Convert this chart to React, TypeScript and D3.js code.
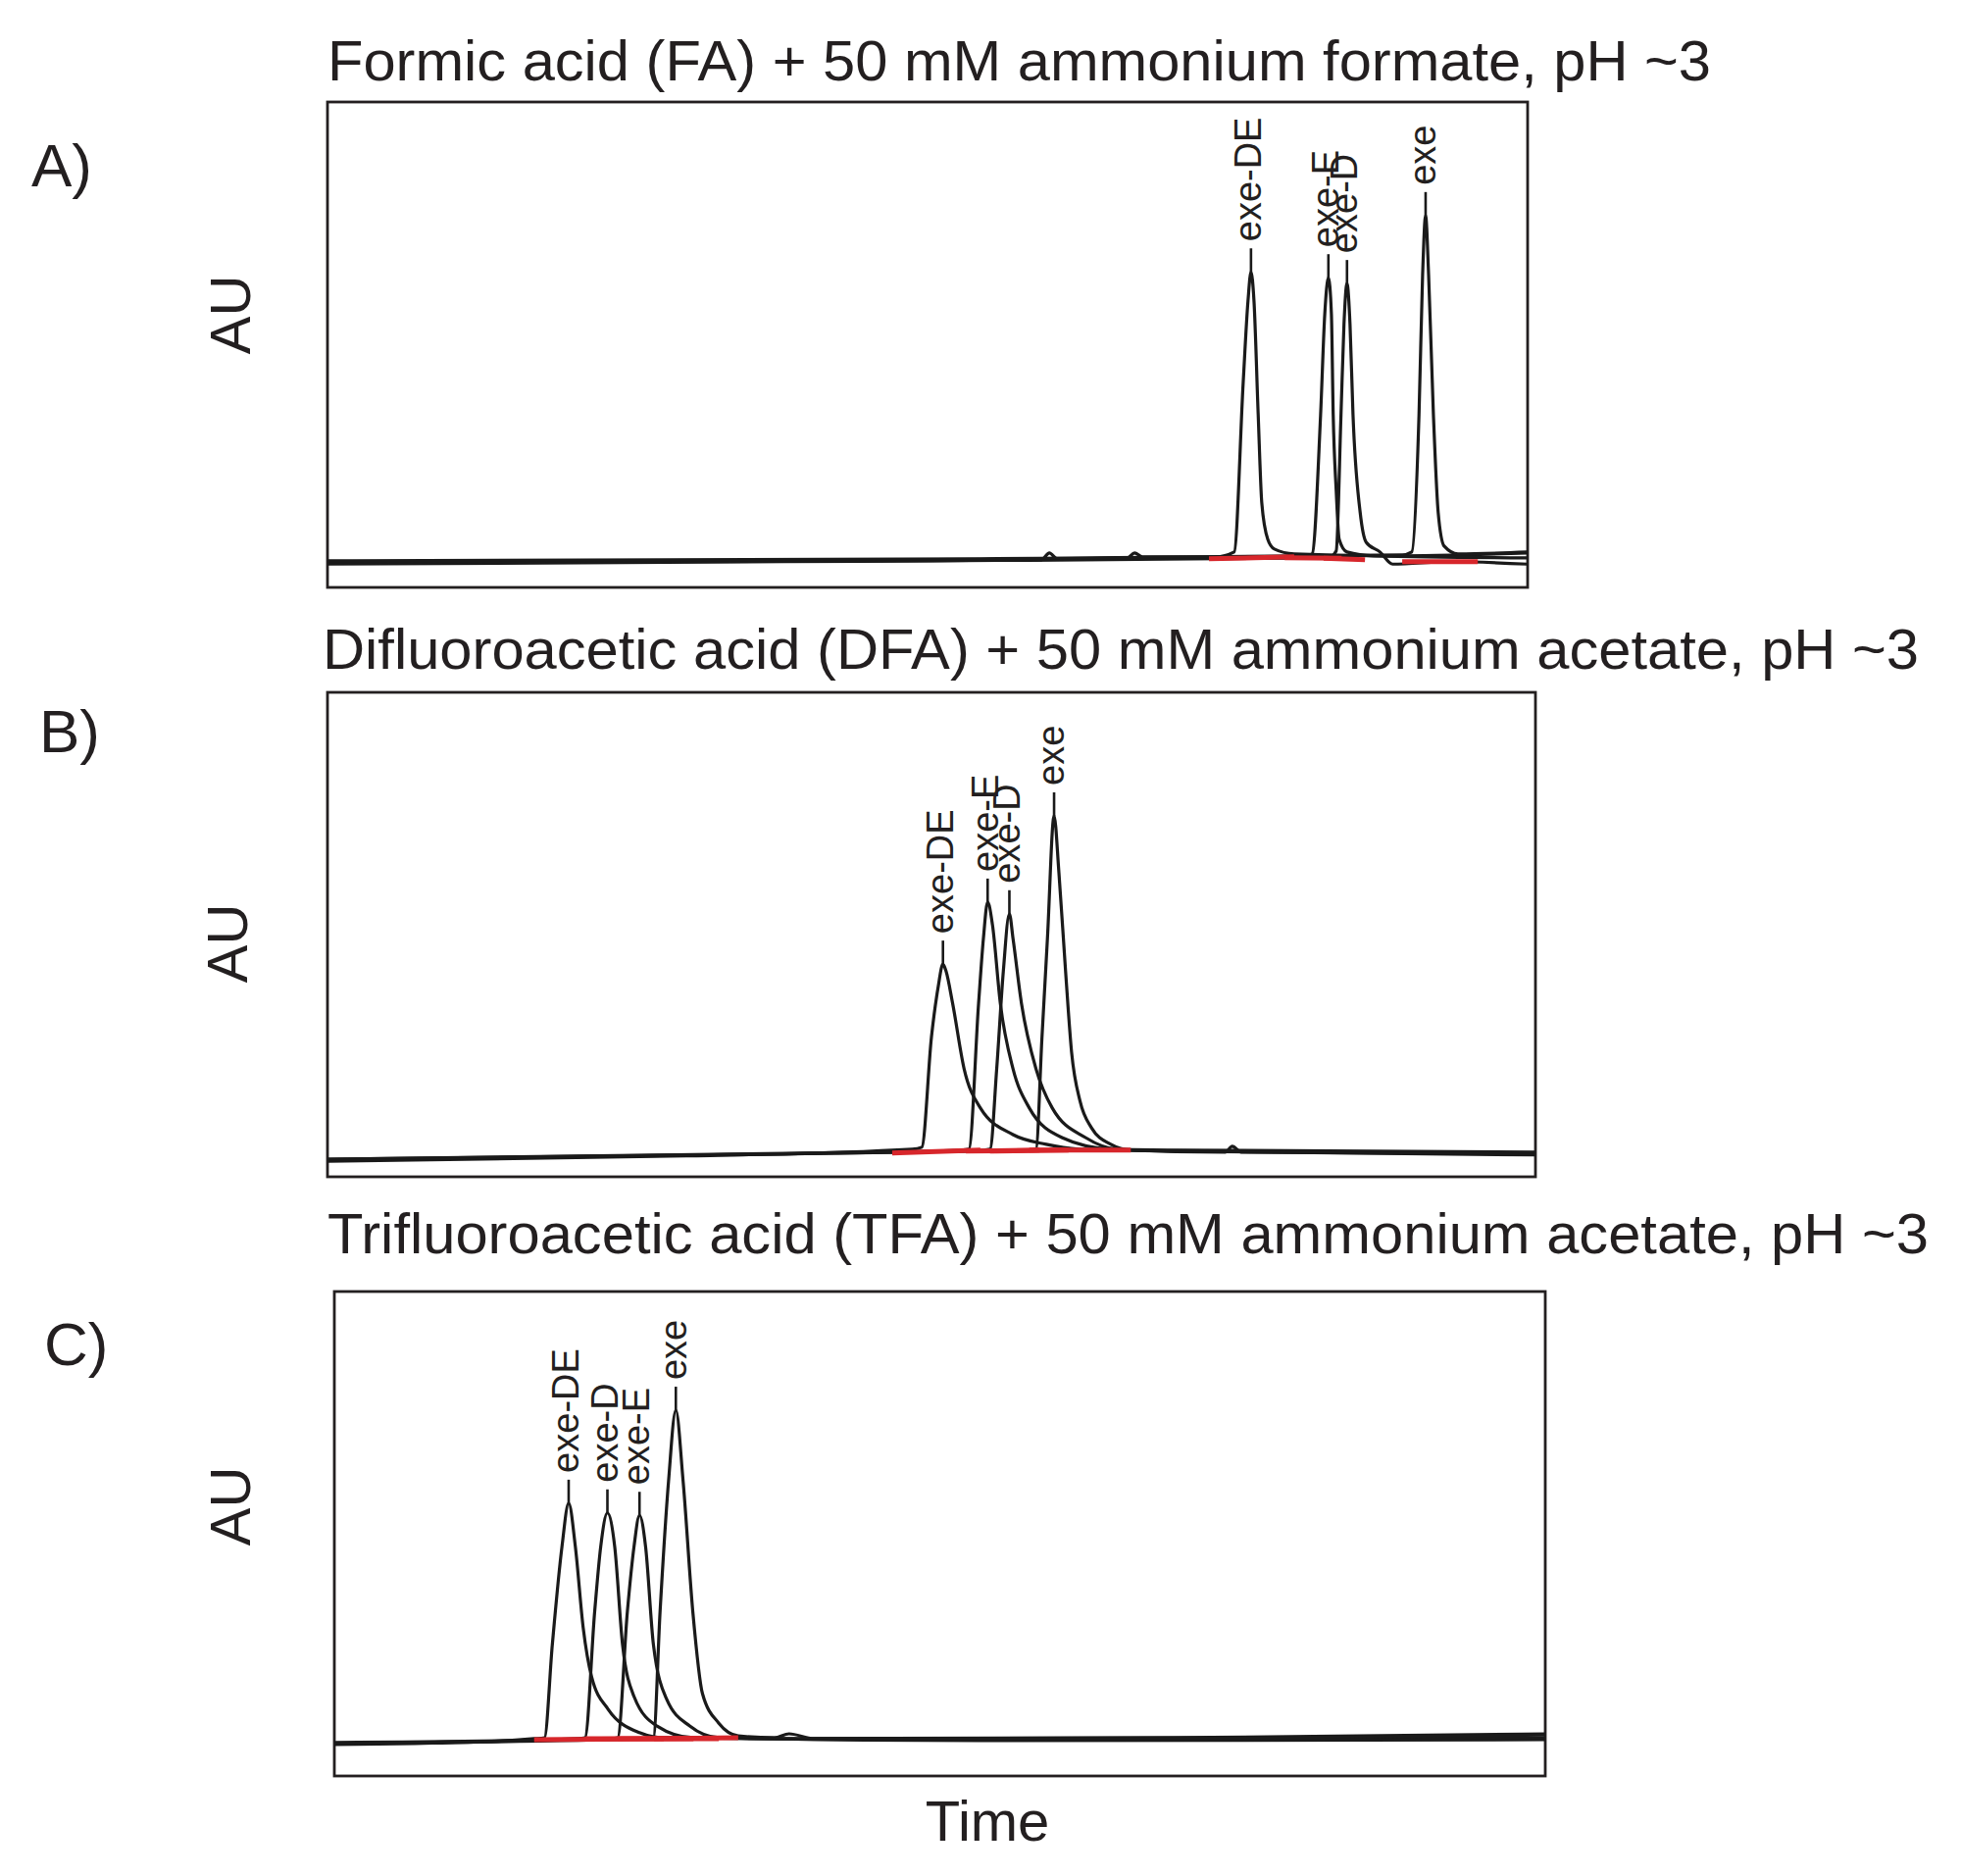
import React from 'react';
import * as d3 from 'd3';

// ---------- text ----------
const panelTitles = [
  'Formic acid (FA) + 50 mM ammonium formate, pH ~3',
  'Difluoroacetic acid (DFA) + 50 mM ammonium acetate, pH ~3',
  'Trifluoroacetic acid (TFA) + 50 mM ammonium acetate, pH ~3',
];
const panelLetters = ['A)', 'B)', 'C)'];
const yAxisLabel = 'AU';
const xAxisLabel = 'Time';

// ---------- panel A: FA ----------
const peakNamesA = ['exe-DE', 'exe-E', 'exe-D', 'exe'];
const peakTimesA = [15.39, 16.68, 16.99, 18.3];
const peakHeightsA = [0.65, 0.638, 0.626, 0.766];
const traceA_DE: [number, number][] = [
  [0, 0.048], [7.61, 0.053], [11.9, 0.057], [12.03, 0.071], [12.16, 0.059], [13.33, 0.061], [13.45, 0.071], [13.58, 0.063],
  [14.8, 0.063], [15.11, 0.073], [15.26, 0.422], [15.34, 0.59], [15.39, 0.65], [15.44, 0.59], [15.51, 0.356], [15.57, 0.174],
  [15.67, 0.099], [15.78, 0.079], [16.11, 0.069], [17.75, 0.065], [20, 0.071],
];
const traceA_E: [number, number][] = [
  [0, 0.053], [9.25, 0.057], [16.27, 0.063], [16.41, 0.069], [16.55, 0.356], [16.62, 0.564], [16.68, 0.638], [16.73, 0.564],
  [16.76, 0.356], [16.81, 0.2], [16.86, 0.099], [16.99, 0.073], [17.44, 0.065], [20, 0.061],
];
const traceA_D: [number, number][] = [
  [0, 0.051], [10.07, 0.055], [16.68, 0.061], [16.81, 0.075], [16.89, 0.356], [16.94, 0.543], [16.99, 0.626], [17.04, 0.543],
  [17.09, 0.356], [17.21, 0.154], [17.31, 0.093], [17.54, 0.073], [17.75, 0.048], [18.73, 0.053], [20, 0.048],
];
const traceA_exe: [number, number][] = [
  [0, 0.055], [10.88, 0.059], [17.91, 0.067], [18.07, 0.073], [18.19, 0.356], [18.25, 0.644], [18.3, 0.766], [18.35, 0.644],
  [18.43, 0.356], [18.51, 0.154], [18.61, 0.085], [18.84, 0.069], [20, 0.073],
];
const integrationA: [number, number, number, number][] = [
  [14.69, 0.061, 16.11, 0.065],
  [15.95, 0.063, 16.9, 0.062],
  [16.6, 0.062, 17.29, 0.059],
  [17.91, 0.055, 19.17, 0.055],
];

// ---------- panel B: DFA ----------
const peakNamesB = ['exe-DE', 'exe-E', 'exe-D', 'exe'];
const peakTimesB = [10.19, 10.93, 11.29, 12.03];
const peakHeightsB = [0.439, 0.567, 0.543, 0.745];
const traceB_DE: [number, number][] = [
  [0, 0.032], [5.94, 0.043], [9.68, 0.057], [9.84, 0.061], [10.0, 0.289], [10.11, 0.391], [10.19, 0.439], [10.24, 0.425],
  [10.35, 0.358], [10.54, 0.223], [10.81, 0.142], [11.35, 0.087], [11.9, 0.067], [12.44, 0.057], [12.97, 0.055],
  [14.87, 0.053], [20, 0.049],
];
const traceB_E: [number, number][] = [
  [0, 0.036], [7.57, 0.047], [10.49, 0.055], [10.62, 0.057], [10.78, 0.358], [10.86, 0.492], [10.93, 0.567], [11.01, 0.52],
  [11.14, 0.358], [11.35, 0.223], [11.62, 0.142], [12.16, 0.081], [12.97, 0.057], [14.87, 0.051], [14.98, 0.063],
  [15.13, 0.051], [20, 0.047],
];
const traceB_D: [number, number][] = [
  [0, 0.034], [8.38, 0.049], [10.86, 0.055], [10.97, 0.057], [11.08, 0.223], [11.19, 0.425], [11.29, 0.543], [11.35, 0.492],
  [11.49, 0.358], [11.73, 0.223], [12.0, 0.142], [12.55, 0.081], [13.08, 0.057], [14.06, 0.055], [20, 0.051],
];
const traceB_exe: [number, number][] = [
  [0, 0.036], [9.19, 0.051], [11.62, 0.055], [11.73, 0.057], [11.83, 0.289], [11.92, 0.492], [12.03, 0.745], [12.11, 0.628],
  [12.22, 0.425], [12.32, 0.257], [12.46, 0.156], [12.65, 0.101], [12.97, 0.067], [13.3, 0.055], [14.06, 0.053], [20, 0.045],
];
const integrationB: [number, number, number, number][] = [
  [9.35, 0.051, 10.81, 0.057],
  [10.57, 0.055, 11.79, 0.057],
  [10.97, 0.055, 12.27, 0.057],
  [11.62, 0.057, 13.3, 0.057],
];

// ---------- panel C: TFA ----------
const peakNamesC = ['exe-DE', 'exe-D', 'exe-E', 'exe'];
const peakTimesC = [3.87, 4.51, 5.04, 5.64];
const peakHeightsC = [0.563, 0.543, 0.538, 0.755];
const traceC_DE: [number, number][] = [
  [0, 0.065], [2.57, 0.071], [3.3, 0.077], [3.47, 0.079], [3.6, 0.271], [3.76, 0.474], [3.87, 0.563], [3.98, 0.474],
  [4.11, 0.306], [4.25, 0.204], [4.52, 0.138], [5.05, 0.089], [5.44, 0.079], [7.43, 0.077], [13.91, 0.079], [20, 0.087],
];
const traceC_D: [number, number][] = [
  [0, 0.067], [4.03, 0.077], [4.14, 0.079], [4.3, 0.34], [4.4, 0.474], [4.51, 0.543], [4.63, 0.474], [4.76, 0.271],
  [4.95, 0.164], [5.33, 0.103], [5.92, 0.079], [9.05, 0.075], [20, 0.079],
];
const traceC_E: [number, number][] = [
  [0, 0.069], [4.52, 0.077], [4.68, 0.079], [4.84, 0.34], [4.95, 0.474], [5.04, 0.538], [5.14, 0.474], [5.27, 0.271],
  [5.49, 0.158], [5.87, 0.103], [6.35, 0.079], [10.67, 0.073], [20, 0.075],
];
const traceC_exe: [number, number][] = [
  [0, 0.067], [5.08, 0.077], [5.27, 0.079], [5.38, 0.34], [5.52, 0.609], [5.64, 0.755], [5.76, 0.609], [5.92, 0.34],
  [6.08, 0.17], [6.35, 0.109], [6.67, 0.083], [7.27, 0.079], [7.51, 0.087], [7.92, 0.077], [15.53, 0.079], [20, 0.085],
];
const integrationC: [number, number, number, number][] = [
  [3.3, 0.077, 5.44, 0.079],
  [4.15, 0.079, 5.93, 0.079],
  [4.68, 0.079, 6.35, 0.079],
  [5.28, 0.079, 6.67, 0.081],
];

const timeDomain: [number, number] = [0, 20];
const auDomain: [number, number] = [0, 1];

// ---------- layout ----------
const W = 2000;
const H = 1913;
const FONT = "'Liberation Sans', Arial, Helvetica, sans-serif";

const panels = [
  {
    frame: { x: 334, y: 104, w: 1224, h: 495 },
    title: { x: 334, y: 82, len: 1411 },
    letter: { x: 32, y: 190 },
    au: { x: 255, y: 321 },
    traces: [traceA_DE, traceA_E, traceA_D, traceA_exe],
    integ: integrationA,
    names: peakNamesA, times: peakTimesA, heights: peakHeightsA,
  },
  {
    frame: { x: 334, y: 706, w: 1232, h: 494 },
    title: { x: 329, y: 682, len: 1628 },
    letter: { x: 40, y: 767 },
    au: { x: 252, y: 962 },
    traces: [traceB_DE, traceB_E, traceB_D, traceB_exe],
    integ: integrationB,
    names: peakNamesB, times: peakTimesB, heights: peakHeightsB,
  },
  {
    frame: { x: 341, y: 1317, w: 1235, h: 494 },
    title: { x: 334, y: 1278, len: 1633 },
    letter: { x: 45, y: 1392 },
    au: { x: 255, y: 1536 },
    traces: [traceC_DE, traceC_D, traceC_E, traceC_exe],
    integ: integrationC,
    names: peakNamesC, times: peakTimesC, heights: peakHeightsC,
  },
];

function Panel({ p, i }: { p: typeof panels[number]; i: number }) {
  const { frame } = p;
  const x = d3.scaleLinear().domain(timeDomain).range([frame.x, frame.x + frame.w]);
  const y = d3.scaleLinear().domain(auDomain).range([frame.y + frame.h, frame.y]);
  const line = d3
    .line<[number, number]>()
    .x((d) => x(d[0]))
    .y((d) => y(d[1]))
    .curve(d3.curveMonotoneX);
  const tickLen = 24;
  const gap = 7;
  return (
    <g>
      <text x={p.title.x} y={p.title.y} fontSize={57} fontFamily={FONT} fill="#231f20"
        textLength={p.title.len} lengthAdjust="spacingAndGlyphs">{panelTitles[i]}</text>
      <text x={p.letter.x} y={p.letter.y} fontSize={62} fontFamily={FONT} fill="#231f20">{panelLetters[i]}</text>
      <text transform={`translate(${p.au.x},${p.au.y}) rotate(-90)`} textAnchor="middle" fontSize={58}
        fontFamily={FONT} fill="#231f20">{yAxisLabel}</text>
      <rect x={frame.x} y={frame.y} width={frame.w} height={frame.h} fill="none" stroke="#231f20" strokeWidth={2.8} />
      {p.traces.map((t, k) => (
        <path key={k} d={line(t) || ''} fill="none" stroke="#1a1a1a" strokeWidth={3.2} strokeLinejoin="round" />
      ))}
      {p.integ.map((s, k) => (
        <line key={k} x1={x(s[0])} y1={y(s[1]) + 1} x2={x(s[2])} y2={y(s[3]) + 1} stroke="#d7262b" strokeWidth={5} />
      ))}
      {p.names.map((n, k) => {
        const px = x(p.times[k]);
        const py = y(p.heights[k]);
        return (
          <g key={n + k}>
            <line x1={px} x2={px} y1={py} y2={py - tickLen} stroke="#1a1a1a" strokeWidth={2.6} />
            <text transform={`translate(${px},${py - tickLen - gap}) rotate(-90)`} dy="0.27em" fontSize={38}
              fontFamily={FONT} fill="#231f20">{n}</text>
          </g>
        );
      })}
    </g>
  );
}

export default function App() {
  return (
    <svg width={W} height={H} viewBox={`0 0 ${W} ${H}`}
      style={{ position: 'absolute', left: 0, top: 0, background: '#fff' }}>
      <rect x={0} y={0} width={W} height={H} fill="#fff" />
      {panels.map((p, i) => (
        <Panel key={i} p={p} i={i} />
      ))}
      <text x={1007} y={1877} textAnchor="middle" fontSize={58} fontFamily={FONT} fill="#231f20">{xAxisLabel}</text>
    </svg>
  );
}
